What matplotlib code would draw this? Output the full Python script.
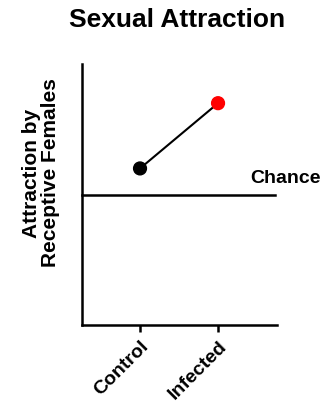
import matplotlib
matplotlib.use("Agg")
import matplotlib.pyplot as plt

plt.rcParams['font.family'] = ['Liberation Sans', 'DejaVu Sans']

groups = ['Control', 'Infected']
attraction = [0.60, 0.85]
point_colors = ['black', 'red']
chance = 0.5

fig = plt.figure(figsize=(3.24, 4.04), dpi=100)
ax = fig.add_axes([0.253, 0.1955, 0.602, 0.646])

x = list(range(len(groups)))
ax.plot(x, attraction, color='black', lw=1.5, zorder=2)
ax.scatter(x, attraction, c=point_colors, s=85, zorder=3)
ax.plot([-0.744, 1.73], [chance, chance], color='black', lw=1.8, zorder=1, clip_on=False)
ax.text(1.41, chance + 0.03, 'Chance', fontsize=14, fontweight='bold', ha='left', va='bottom', clip_on=False)

ax.set_xlim(-0.744, 1.756)
ax.set_ylim(0, 1)
ax.set_xticks(x)
ax.set_xticklabels(groups, rotation=45, ha='right', rotation_mode='anchor', fontsize=14, fontweight='bold')
ax.set_yticks([])
ax.tick_params(axis='x', length=5, width=1.8, pad=4)
for s in ['top', 'right']:
    ax.spines[s].set_visible(False)
for s in ['left', 'bottom']:
    ax.spines[s].set_linewidth(1.8)

fig.text(41 / 324, 1 - 173 / 404, 'Attraction by\nReceptive Females', fontsize=15, fontweight='bold',
         rotation=90, ha='center', va='center', linespacing=1.0)
fig.text(0.548, 0.95, 'Sexual Attraction', fontsize=19, fontweight='bold', ha='center', va='center')

fig.savefig('out.png', dpi=100)
